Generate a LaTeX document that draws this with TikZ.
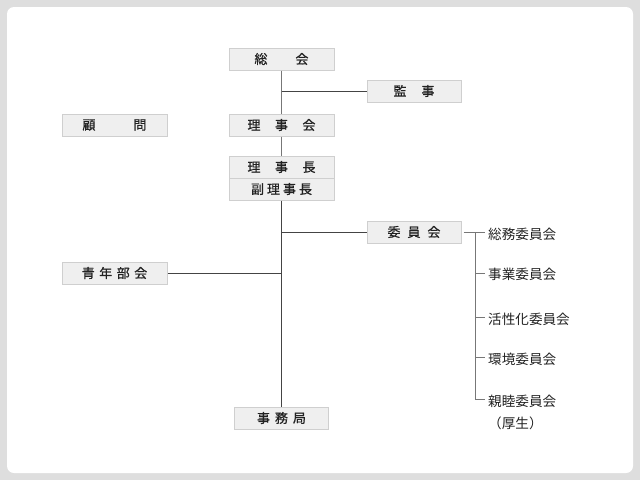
\documentclass[tikz,border=0pt]{standalone}
\usepackage{fontspec}
\newfontfamily\jpfont{Noto Sans CJK JP}
\newfontfamily\jpboxfont[FakeBold=0.8]{Noto Sans CJK JP}
\definecolor{bggray}{HTML}{DEDEDE}
\definecolor{boxfill}{HTML}{EFEFEF}
\definecolor{boxline}{HTML}{CFCFCF}
\definecolor{txt}{HTML}{222222}
\definecolor{trunk}{HTML}{777777}
\definecolor{branch}{HTML}{444444}
\tikzset{
  orgbox/.style={draw=boxline, fill=boxfill, line width=1pt, minimum width=105pt, minimum height=22pt, inner sep=0pt, font=\jpboxfont\fontsize{13}{13}\selectfont, text=txt},
  smallbox/.style={orgbox, minimum width=94pt},
  cmte/.style={anchor=west, inner sep=0pt, font=\jpfont\fontsize{13.6}{13.6}\selectfont, text=txt},
  trunkline/.style={draw=trunk, line width=1.4pt},
  branchline/.style={draw=branch, line width=0.9pt},
  bracketline/.style={draw=trunk, line width=1pt}
}
\begin{document}
\begin{tikzpicture}[x=1pt,y=-1pt]
\useasboundingbox (0,0) rectangle (640,480);
\fill[bggray] (0,0) rectangle (640,480);
\fill[white, rounded corners=7pt] (7,7) rectangle (633,473);

% boxes
\node[orgbox] (sokai) at (281.5,59) {総\hspace{28pt}会};
\node[smallbox] (kanji) at (414,91) {監\hspace{15pt}事};
\node[orgbox] (komon) at (114.5,125) {顧\hspace{38pt}問};
\node[orgbox] (rijikai) at (281.5,125) {理\hspace{14.5pt}事\hspace{14.5pt}会};
\node[orgbox] (rijicho) at (281.5,167) {理\hspace{14.5pt}事\hspace{14.5pt}長};
\node[orgbox] (fuku) at (281.5,189) {副\hspace{3pt}理\hspace{3pt}事\hspace{3pt}長};
\node[smallbox] (iinkai) at (414,232) {委\hspace{7pt}員\hspace{7pt}会};
\node[orgbox] (seinen) at (114.5,273) {青\hspace{4.5pt}年\hspace{4.5pt}部\hspace{4.5pt}会};
\node[smallbox] (jimu) at (281.5,418) {事\hspace{5pt}務\hspace{5pt}局};

% junctions
\coordinate (jk) at (sokai.south |- kanji.west);
\coordinate (ji) at (sokai.south |- iinkai.west);
\coordinate (js) at (sokai.south |- seinen.east);

% trunk
\draw[trunkline] (sokai.south) -- (rijikai.north);
\draw[trunkline] (rijikai.south) -- (rijicho.north);
\draw[branchline] (fuku.south) -- (jimu.north);
\draw[branchline] (jk) -- (kanji.west);
\draw[branchline] (ji) -- (iinkai.west);
\draw[branchline] (seinen.east) -- (js);

% committees
\node[cmte] (c1) at (488,234) {総務委員会};
\node[cmte] (c2) at (488,274) {事業委員会};
\node[cmte] (c3) at (488,319) {活性化委員会};
\node[cmte] (c4) at (488,359) {環境委員会};
\node[cmte] (c5) at (488,401) {親睦委員会};
\node[cmte] (c5b) at (488,423) {（厚生）};

\coordinate (bt) at (475,232);
\coordinate (bb) at (475,399);
\draw[bracketline] ([xshift=2pt]iinkai.east) -- (485,232);
\draw[bracketline] (bt) -- (bb) -- (485,399);
\draw[bracketline] (bt |- 0,273) -- (485,273);
\draw[bracketline] (bt |- 0,317) -- (485,317);
\draw[bracketline] (bt |- 0,357) -- (485,357);
\end{tikzpicture}
\end{document}
